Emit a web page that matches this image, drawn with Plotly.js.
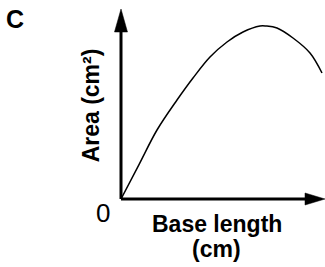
<!DOCTYPE html>
<html>
<head>
<meta charset="utf-8">
<script src="https://cdn.plot.ly/plotly-3.0.1.min.js"></script>
<style>html,body{margin:0;padding:0;background:#fff;}#chart{width:325px;height:267px;}</style>
</head>
<body>
<div id="chart"></div>
<script>
// Data (arbitrary units, no tick values shown)
const baseLength = [0, 0.9, 1.8, 2.8, 3.6, 4.45, 5.3, 6.1, 6.95, 7.25, 7.8, 8.6, 9.45, 10.05];
const area       = [0, 1.72, 3.45, 4.95, 6.05, 7.1, 7.85, 8.35, 8.65, 8.65, 8.55, 8.05, 7.3, 6.3];

const panelLabel = 'C';
const originLabel = '0';
const xTitleLine1 = 'Base length';
const xTitleLine2 = '(cm)';
const yTitle = 'Area (cm²)';

const FONT = 'Liberation Sans, Arial, Helvetica, sans-serif';

const trace = {
  x: baseLength,
  y: area,
  type: 'scatter',
  mode: 'lines',
  line: {color: '#000', width: 1.5, shape: 'spline', smoothing: 1},
  cliponaxis: false,
  hoverinfo: 'skip'
};

const layout = {
  width: 325,
  height: 267,
  margin: {l: 121, r: 0, t: 9, b: 68, pad: 0},
  paper_bgcolor: '#fff',
  plot_bgcolor: '#fff',
  showlegend: false,
  font: {family: FONT, color: '#000'},
  xaxis: {range: [0, 10.2], showgrid: false, zeroline: false, showline: false,
          showticklabels: false, ticks: '', fixedrange: true},
  yaxis: {range: [0, 9.5], showgrid: false, zeroline: false, showline: false,
          showticklabels: false, ticks: '', fixedrange: true},
  shapes: [
    {type: 'line', xref: 'paper', yref: 'paper', x0: 0, y0: 0, x1: 0, y1: 0.9,
     line: {color: '#000', width: 3}, layer: 'above'},
    {type: 'line', xref: 'paper', yref: 'paper', x0: 0, y0: 0, x1: 0.95, y1: 0,
     line: {color: '#000', width: 3}, layer: 'above'},
    {type: 'path', xref: 'paper', yref: 'paper',
     path: 'M -0.0319,0.8789 L 0.0319,0.8789 L 0,1 Z',
     fillcolor: '#000', line: {color: '#000', width: 0.5}, layer: 'above'},
    {type: 'path', xref: 'paper', yref: 'paper',
     path: 'M 0.902,-0.0316 L 0.902,0.0316 L 1,0 Z',
     fillcolor: '#000', line: {color: '#000', width: 0.5}, layer: 'above'}
  ],
  annotations: [
    {text: '<b>' + panelLabel + '</b>', xref: 'paper', yref: 'paper', x: -0.52, y: 0.949,
     xanchor: 'center', yanchor: 'middle', showarrow: false, borderpad: 0,
     font: {size: 25, family: FONT}},
    {text: originLabel, xref: 'paper', yref: 'paper', x: -0.0868, y: -0.0737,
     xanchor: 'center', yanchor: 'middle', showarrow: false, borderpad: 0,
     font: {size: 26, family: FONT}},
    {text: '<b>' + xTitleLine1 + '</b>', xref: 'paper', yref: 'paper', x: 0.473, y: -0.1316,
     xanchor: 'center', yanchor: 'middle', showarrow: false, borderpad: 0,
     font: {size: 23, family: FONT}},
    {text: '<b>' + xTitleLine2 + '</b>', xref: 'paper', yref: 'paper', x: 0.466, y: -0.263,
     xanchor: 'center', yanchor: 'middle', showarrow: false, borderpad: 0,
     font: {size: 23, family: FONT}},
    {text: '<b>' + yTitle + '</b>', xref: 'paper', yref: 'paper', x: -0.145, y: 0.495,
     textangle: -90, xanchor: 'center', yanchor: 'middle', showarrow: false, borderpad: 0,
     font: {size: 23, family: FONT}}
  ]
};

Plotly.newPlot('chart', [trace], layout, {displayModeBar: false, staticPlot: true});
</script>
</body>
</html>
